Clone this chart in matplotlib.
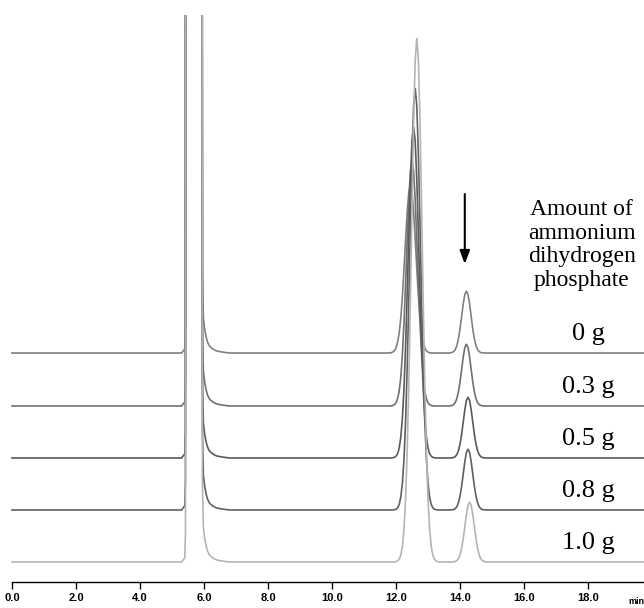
import matplotlib.pyplot as plt

# chromatograms stacked by amount of ammonium dihydrogen phosphate
amounts = ['0 g', '0.3 g', '0.5 g', '0.8 g', '1.0 g']
baseline_mau = [229, 176, 124, 72, 20]
trace_colors = ['#808080', '#707070', '#5a5a5a', '#606060', '#b4b4b4']

# retention times (min)
time_start = [0.0, 5.30, 5.37, 5.40, 5.42, 5.44, 5.92, 5.95, 5.98, 6.02, 6.06,
              6.10, 6.15, 6.20, 6.30, 6.40, 6.60, 6.80, 11.80]
time_peak12 = [11.85, 11.90, 11.95, 12.00, 12.05, 12.10, 12.15, 12.20, 12.25,
               12.30, 12.35, 12.40, 12.45, 12.50, 12.55, 12.60, 12.65, 12.70,
               12.75, 12.80, 12.85, 12.90, 12.95, 13.00, 13.05, 13.10, 13.15,
               13.20, 13.25, 13.30, 13.35]
time_peak14 = [13.65, 13.70, 13.75, 13.80, 13.85, 13.90, 13.95, 14.00, 14.05,
               14.10, 14.15, 14.20, 14.25, 14.30, 14.35, 14.40, 14.45, 14.50,
               14.55, 14.60, 14.65, 14.70, 14.75, 14.80, 14.85]
time_end = [19.80]

# signal above each baseline
signal_start = [0, 0, 3, 4, 30, 2000, 2000, 80, 35, 24, 17, 12, 8, 6, 3.5, 2,
                0.8, 0, 0]

peak12 = [
    [0.3, 0.9, 2.2, 5, 11, 20, 35, 57, 84, 114, 141, 161, 168, 161, 141, 114,
     84, 57, 35, 20, 11, 5, 2.2, 0.9, 0.3, 0, 0, 0, 0, 0, 0],
    [0.2, 0.5, 1.3, 3.2, 7.4, 15, 29, 52, 83, 123, 166, 206, 235, 245, 235,
     206, 166, 123, 83, 52, 29, 15, 7.4, 3.2, 1.3, 0.5, 0.2, 0, 0, 0, 0],
    [0, 0.2, 0.7, 1.8, 4.3, 10, 21, 40, 70, 112, 166, 224, 278, 317, 331, 317,
     278, 224, 166, 112, 70, 40, 21, 10, 4.3, 1.8, 0.7, 0.2, 0, 0, 0],
    [0, 0, 0.3, 0.8, 2.2, 5.5, 13, 27, 51, 89, 143, 211, 286, 355, 404, 422,
     404, 355, 286, 211, 143, 89, 51, 27, 13, 5.5, 2.2, 0.8, 0.3, 0, 0],
    [0, 0, 0, 0.4, 1.0, 2.8, 6.8, 15.7, 33, 63, 111, 178, 262, 355, 441, 502,
     524, 502, 441, 355, 262, 178, 111, 63, 33, 15.7, 6.8, 2.8, 1.0, 0.4, 0],
]

peak14 = [
    [0, 0.2, 0.5, 1.4, 3.3, 7.3, 14.0, 23.9, 36.3, 48.9, 58.4, 62, 58.4, 48.9,
     36.3, 23.9, 14.0, 7.3, 3.3, 1.4, 0.5, 0.2, 0, 0, 0],
    [0, 0.2, 0.5, 1.4, 3.3, 7.3, 14.0, 23.9, 36.3, 48.9, 58.4, 62, 58.4, 48.9,
     36.3, 23.9, 14.0, 7.3, 3.3, 1.4, 0.5, 0.2, 0, 0, 0],
    [0, 0, 0.2, 0.5, 1.3, 3.3, 7.1, 13.8, 23.5, 35.7, 48.1, 57.5, 61, 57.5,
     48.1, 35.7, 23.5, 13.8, 7.1, 3.3, 1.3, 0.5, 0.2, 0, 0],
    [0, 0, 0.2, 0.5, 1.3, 3.3, 7.1, 13.8, 23.5, 35.7, 48.1, 57.5, 61, 57.5,
     48.1, 35.7, 23.5, 13.8, 7.1, 3.3, 1.3, 0.5, 0.2, 0, 0],
    [0, 0, 0, 0.2, 0.5, 1.3, 3.2, 7.0, 13.6, 23.2, 35.1, 47.3, 56.5, 60, 56.5,
     47.3, 35.1, 23.2, 13.6, 7.0, 3.2, 1.3, 0.5, 0.2, 0],
]

x_ticks = [0, 2, 4, 6, 8, 10, 12, 14, 16, 18]


def main():
    fig = plt.figure(figsize=(6.44, 6.08), dpi=100)
    ax = fig.add_axes([0, 0.0428, 1, 0.9325])

    times = time_start + time_peak12 + time_peak14 + time_end
    for k in range(len(amounts)):
        sig = signal_start + peak12[k] + peak14[k] + [0]
        ys = [baseline_mau[k] + s for s in sig]
        ax.plot(times, ys, color=trace_colors[k], lw=1.2, solid_joinstyle='miter')
        ax.text(18.0, baseline_mau[k] + 13, amounts[k], ha='center', va='baseline',
                fontsize=19, family='Liberation Serif')

    ax.text(17.8, 337, 'Amount of\nammonium\ndihydrogen\nphosphate',
            ha='center', va='center', fontsize=17, family='Liberation Serif',
            linespacing=1.15)

    ax.annotate('', xy=(14.15, 318), xytext=(14.15, 388),
                arrowprops=dict(arrowstyle='-|>,head_width=0.3,head_length=0.8',
                                color='black', lw=1.5, shrinkA=0, shrinkB=0))

    ax.set_xlim(-0.375, 19.75)
    ax.set_ylim(0, 567)
    for side in ['left', 'right', 'top']:
        ax.spines[side].set_visible(False)
    ax.spines['bottom'].set_bounds(0, 19.75)
    ax.spines['bottom'].set_linewidth(1.0)
    ax.set_yticks([])
    ax.set_xticks(x_ticks)
    ax.set_xticklabels(['%.1f' % t for t in x_ticks], fontsize=8, fontweight='bold',
                       family='Liberation Sans')
    ax.tick_params(axis='x', direction='out', length=5, width=1, pad=3)
    ax.text(19.25, -0.034, 'min', transform=ax.get_xaxis_transform(),
            fontsize=6.5, fontweight='bold', family='Liberation Sans',
            ha='left', va='center', clip_on=False)

    fig.savefig('out.png', dpi=100)


if __name__ == '__main__':
    main()
